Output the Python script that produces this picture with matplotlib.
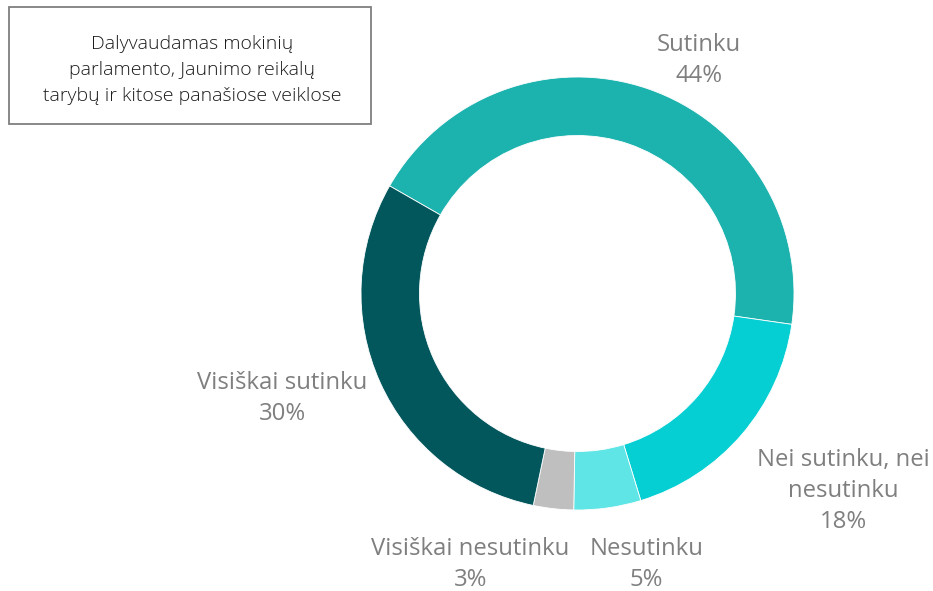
import matplotlib
matplotlib.use("Agg")
import matplotlib.pyplot as plt
from matplotlib.patches import Rectangle

plt.rcParams['font.family'] = ['Open Sans', 'DejaVu Sans']

# ---- data ----
categories = ["Sutinku", "Nei sutinku, nei\nnesutinku", "Nesutinku",
              "Visiškai nesutinku", "Visiškai sutinku"]
values = [44, 18, 5, 3, 30]
colors = ["#1CB2AE", "#05CFD3", "#5FE5E5", "#BFBFBF", "#02575C"]
title_text = "Dalyvaudamas mokinių\nparlamento, Jaunimo reikalų\ntarybų ir kitose panašiose veiklose"

# ---- layout (pixel coordinates, y measured from top) ----
W, H = 933, 591
center_px = (577.5, 293.5)
outer_r = 216.5
ring_w = 58.5
start_angle = 150.2
# (center x, baseline of last line)
label_pos = [(699, 82), (843, 528), (646.5, 586), (470.5, 586), (282, 420)]

fig = plt.figure(figsize=(W / 100, H / 100), dpi=100)
ax = fig.add_axes([0, 0, 1, 1])
ax.set_xlim(0, W)
ax.set_ylim(0, H)
ax.set_aspect('equal')
ax.axis('off')

ax.pie(values, colors=colors, startangle=start_angle, counterclock=False,
       radius=outer_r, center=(center_px[0], H - center_px[1]),
       wedgeprops=dict(width=ring_w, edgecolor='white', linewidth=0.6))
ax.set_xlim(0, W)
ax.set_ylim(0, H)

for cat, v, (x, y) in zip(categories, values, label_pos):
    ax.text(x, H - y, f"{cat}\n{v}%", ha='center', va='baseline',
            fontsize=17.2, color='#7F7F7F', linespacing=1.4, multialignment='center')

# title box
ax.add_patch(Rectangle((9, H - 124), 362, 117, fill=False, edgecolor='#7F7F7F', linewidth=1.3))
ax.text(192, H - 100.7, title_text, ha='center', va='baseline', fontsize=14,
        color='#1A1A1A', linespacing=1.55, multialignment='center', fontweight='light')

fig.savefig("out.png", dpi=100)
